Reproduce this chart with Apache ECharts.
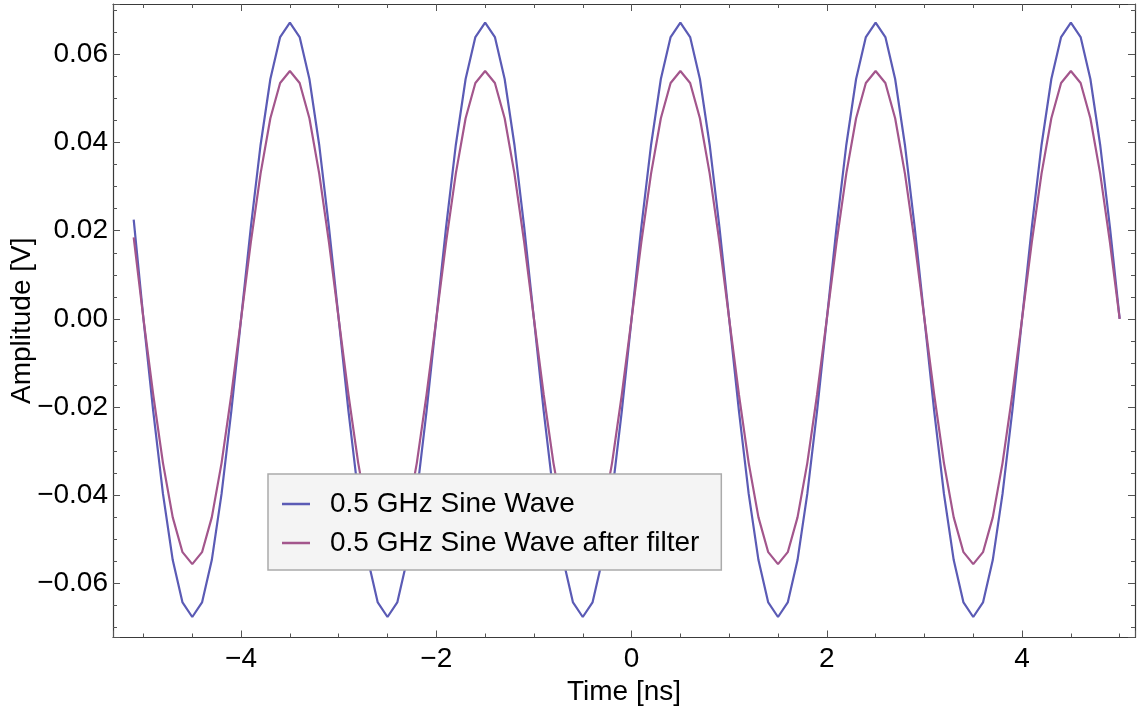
<!DOCTYPE html>
<html>
<head>
<meta charset="utf-8">
<script src="https://cdn.jsdelivr.net/npm/echarts@6/dist/echarts.min.js"></script>
<style>
  html, body { margin: 0; padding: 0; background: #ffffff; }
  #chart { width: 1139px; height: 711px; }
</style>
</head>
<body>
<div id="chart"></div>
<script>
// Time axis samples [ns]
const timeNs = [
  -5.1,
  -5.0, -4.9, -4.8, -4.7, -4.6, -4.5, -4.4, -4.3, -4.2, -4.1,
  -4.0, -3.9, -3.8, -3.7, -3.6, -3.5, -3.4, -3.3, -3.2, -3.1,
  -3.0, -2.9, -2.8, -2.7, -2.6, -2.5, -2.4, -2.3, -2.2, -2.1,
  -2.0, -1.9, -1.8, -1.7, -1.6, -1.5, -1.4, -1.3, -1.2, -1.1,
  -1.0, -0.9, -0.8, -0.7, -0.6, -0.5, -0.4, -0.3, -0.2, -0.1,
   0.0,  0.1,  0.2,  0.3,  0.4,  0.5,  0.6,  0.7,  0.8,  0.9,
   1.0,  1.1,  1.2,  1.3,  1.4,  1.5,  1.6,  1.7,  1.8,  1.9,
   2.0,  2.1,  2.2,  2.3,  2.4,  2.5,  2.6,  2.7,  2.8,  2.9,
   3.0,  3.1,  3.2,  3.3,  3.4,  3.5,  3.6,  3.7,  3.8,  3.9,
   4.0,  4.1,  4.2,  4.3,  4.4,  4.5,  4.6,  4.7,  4.8,  4.9,
   5.0
];

// 0.5 GHz sine wave [V]
const sineWave = [
  0.0225,
  0.0000, -0.0209, -0.0397, -0.0547, -0.0643, -0.0676, -0.0643, -0.0547, -0.0397, -0.0209,
  0.0000,  0.0208,  0.0395,  0.0544,  0.0639,  0.0672,  0.0639,  0.0544,  0.0395,  0.0208,
  0.0000, -0.0209, -0.0397, -0.0547, -0.0643, -0.0676, -0.0643, -0.0547, -0.0397, -0.0209,
  0.0000,  0.0208,  0.0395,  0.0544,  0.0639,  0.0672,  0.0639,  0.0544,  0.0395,  0.0208,
  0.0000, -0.0209, -0.0397, -0.0547, -0.0643, -0.0676, -0.0643, -0.0547, -0.0397, -0.0209,
  0.0000,  0.0208,  0.0395,  0.0544,  0.0639,  0.0672,  0.0639,  0.0544,  0.0395,  0.0208,
  0.0000, -0.0209, -0.0397, -0.0547, -0.0643, -0.0676, -0.0643, -0.0547, -0.0397, -0.0209,
  0.0000,  0.0208,  0.0395,  0.0544,  0.0639,  0.0672,  0.0639,  0.0544,  0.0395,  0.0208,
  0.0000, -0.0209, -0.0397, -0.0547, -0.0643, -0.0676, -0.0643, -0.0547, -0.0397, -0.0209,
  0.0000,  0.0208,  0.0395,  0.0544,  0.0639,  0.0672,  0.0639,  0.0544,  0.0395,  0.0208,
  0.0000
];

// 0.5 GHz sine wave after filter [V]
const filteredWave = [
  0.0185,
  0.0000, -0.0172, -0.0327, -0.0450, -0.0529, -0.0556, -0.0529, -0.0450, -0.0327, -0.0172,
  0.0000,  0.0174,  0.0330,  0.0455,  0.0535,  0.0562,  0.0535,  0.0455,  0.0330,  0.0174,
  0.0000, -0.0172, -0.0327, -0.0450, -0.0529, -0.0556, -0.0529, -0.0450, -0.0327, -0.0172,
  0.0000,  0.0174,  0.0330,  0.0455,  0.0535,  0.0562,  0.0535,  0.0455,  0.0330,  0.0174,
  0.0000, -0.0172, -0.0327, -0.0450, -0.0529, -0.0556, -0.0529, -0.0450, -0.0327, -0.0172,
  0.0000,  0.0174,  0.0330,  0.0455,  0.0535,  0.0562,  0.0535,  0.0455,  0.0330,  0.0174,
  0.0000, -0.0172, -0.0327, -0.0450, -0.0529, -0.0556, -0.0529, -0.0450, -0.0327, -0.0172,
  0.0000,  0.0174,  0.0330,  0.0455,  0.0535,  0.0562,  0.0535,  0.0455,  0.0330,  0.0174,
  0.0000, -0.0172, -0.0327, -0.0450, -0.0529, -0.0556, -0.0529, -0.0450, -0.0327, -0.0172,
  0.0000,  0.0174,  0.0330,  0.0455,  0.0535,  0.0562,  0.0535,  0.0455,  0.0330,  0.0174,
  0.0000
];

const seriesNames = ['0.5 GHz Sine Wave', '0.5 GHz Sine Wave after filter'];
const xTitle = 'Time [ns]';
const yTitle = 'Amplitude [V]';

const FONT = "'Liberation Sans', Arial, sans-serif";
const frameColor = '#3a3a3a';
const tickColor = '#555555';

function minusSign(s) { return s.replace('-', '\u2212'); }
function fmtX(v) { return Math.abs(v) < 1e-9 ? '0' : minusSign(String(Math.round(v))); }
function fmtY(v) { return Math.abs(v) < 1e-9 ? '0.00' : minusSign(v.toFixed(2)); }

const xMin = -5.312, xMax = 5.157;
const yMin = -0.07225, yMax = 0.07141;

function makeX(pos, showLabels) {
  return {
    type: 'value', position: pos, min: xMin, max: xMax, splitNumber: 5,
    name: showLabels ? xTitle : '', nameLocation: 'middle', nameGap: 40,
    nameTextStyle: { fontSize: 28, fontFamily: FONT, color: '#000' },
    axisLine: { show: true, onZero: false, lineStyle: { color: frameColor, width: 1.2 } },
    axisTick: { show: true, inside: true, length: 7, lineStyle: { color: tickColor, width: 1 } },
    minorTick: { show: true, splitNumber: 4, length: 4, lineStyle: { color: tickColor, width: 1 } },
    splitLine: { show: false },
    axisLabel: { show: showLabels, margin: 8, fontSize: 28, fontFamily: FONT, color: '#000',
                 showMinLabel: false, showMaxLabel: false, formatter: fmtX }
  };
}
function makeY(pos, showLabels) {
  return {
    type: 'value', position: pos, min: yMin, max: yMax, splitNumber: 7,
    name: showLabels ? yTitle : '', nameLocation: 'middle', nameGap: 77, nameRotate: 90,
    nameMoveOverlap: false,
    nameTextStyle: { fontSize: 28, fontFamily: FONT, color: '#000' },
    axisLine: { show: true, onZero: false, lineStyle: { color: frameColor, width: 1.2 } },
    axisTick: { show: true, inside: true, length: 7, lineStyle: { color: tickColor, width: 1 } },
    minorTick: { show: true, splitNumber: 4, length: 4, lineStyle: { color: tickColor, width: 1 } },
    splitLine: { show: false },
    axisLabel: { show: showLabels, margin: 5, fontSize: 28, fontFamily: FONT, color: '#000',
                 showMinLabel: false, showMaxLabel: false, formatter: fmtY }
  };
}

const chart = echarts.init(document.getElementById('chart'), null, { renderer: 'canvas' });
chart.setOption({
  animation: false,
  backgroundColor: '#ffffff',
  grid: { left: 113, right: 4, top: 4, bottom: 73.5, containLabel: false, outerBoundsMode: 'none' },
  xAxis: [makeX('bottom', true), makeX('top', false)],
  yAxis: [makeY('left', true), makeY('right', false)],
  legend: {
    orient: 'vertical', left: 268, top: 474,
    backgroundColor: '#f4f4f4', borderColor: '#ababab', borderWidth: 1.5, borderRadius: 0,
    padding: [16, 22, 13, 14], itemGap: 11,
    icon: 'rect', itemWidth: 28, itemHeight: 2.5,
    textStyle: { fontSize: 28, fontFamily: FONT, color: '#000', padding: [0, 0, 0, 15] },
    data: seriesNames
  },
  series: [
    {
      name: seriesNames[0], type: 'line', xAxisIndex: 0, yAxisIndex: 0,
      data: timeNs.map((t, i) => [t, sineWave[i]]),
      showSymbol: false, symbol: 'none', clip: true,
      lineStyle: { color: '#5b5bb5', width: 2.2 }, itemStyle: { color: '#5b5bb5' }
    },
    {
      name: seriesNames[1], type: 'line', xAxisIndex: 0, yAxisIndex: 0,
      data: timeNs.map((t, i) => [t, filteredWave[i]]),
      showSymbol: false, symbol: 'none', clip: true,
      lineStyle: { color: '#a3568c', width: 2.2 }, itemStyle: { color: '#a3568c' }
    }
  ]
});
</script>
</body>
</html>
